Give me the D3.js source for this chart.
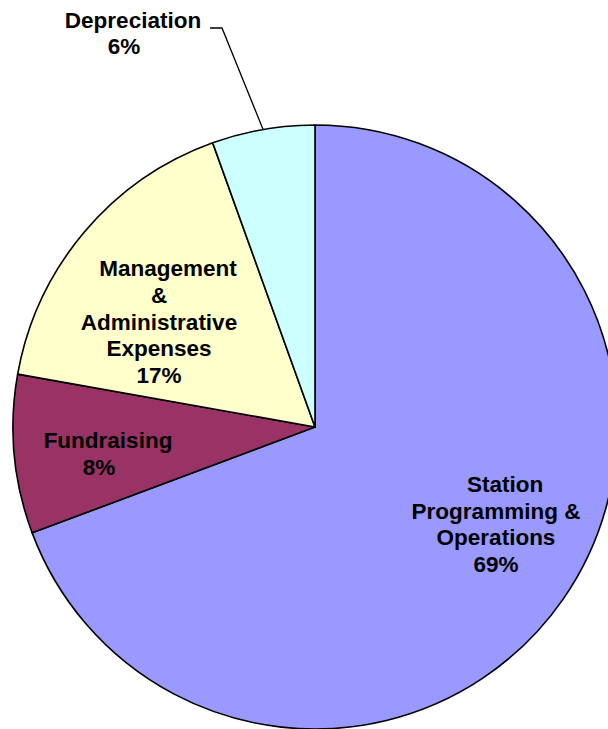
<!DOCTYPE html>
<html>
<head>
<meta charset="utf-8">
<script src="https://cdn.jsdelivr.net/npm/d3@7"></script>
<style>
  html, body { margin: 0; padding: 0; background: #fff; overflow: hidden; }
  svg { display: block; }
  text { font-family: "Liberation Sans", Arial, sans-serif; font-weight: bold; font-size: 22.5px; fill: #000; }
</style>
</head>
<body>
<svg id="chart" width="608" height="729"></svg>
<script>
// ---- data ----
const categories = ["Station Programming & Operations", "Fundraising", "Management & Administrative Expenses", "Depreciation"];
const values = [69.3, 8.5, 16.7, 5.5];
const percentLabels = ["69%", "8%", "17%", "6%"];
const labelLines = [
  ["Station", "Programming &", "Operations"],
  ["Fundraising"],
  ["Management", "&", "Administrative", "Expenses"],
  ["Depreciation"]
];
const colors = ["#9999FF", "#993366", "#FFFFCC", "#CCFFFF"];

// ---- layout ----
const cx = 315, cy = 427, R = 302;
const labelOffsets = [[181, 97], [-216, 26.5], [-156, -105.5], [-191, -394]];
const leaderSlice = 3;
const lineH = 26.6;

const svg = d3.select("#chart");
const g = svg.append("g").attr("transform", `translate(${cx},${cy})`);

const pie = d3.pie().sort(null).value(d => d)
  .startAngle(0).endAngle(2 * Math.PI);
const arcs = pie(values);
const arc = d3.arc().innerRadius(0).outerRadius(R);

g.selectAll("path.slice").data(arcs).enter().append("path")
  .attr("class", "slice")
  .attr("d", arc)
  .attr("fill", (d, i) => colors[i])
  .attr("stroke", "#000")
  .attr("stroke-width", 1.6)
  .attr("stroke-linejoin", "round");

// leader line for Depreciation
{
  const a = arcs[leaderSlice];
  const mid = (a.startAngle + a.endAngle) / 2;
  const ex = R * Math.sin(mid), ey = -R * Math.cos(mid);
  const [lx, ly] = labelOffsets[leaderSlice];
  const elbowY = ly - 5;
  g.append("polyline")
    .attr("points", [[lx + 86, elbowY], [lx + 98, elbowY], [ex, ey]].map(p => p.join(",")).join(" "))
    .attr("fill", "none")
    .attr("stroke", "#000")
    .attr("stroke-width", 1.3);
}

// labels
arcs.forEach((a, i) => {
  const lines = labelLines[i].concat([percentLabels[i]]);
  const [lx, ly] = labelOffsets[i];
  const n = lines.length;
  const t = g.append("text").attr("text-anchor", "middle");
  lines.forEach((ln, k) => {
    t.append("tspan")
      .attr("x", lx + (k === 0 ? 9 : 0))
      .attr("y", ly + (k - (n - 1) / 2) * lineH)
      .attr("dy", "0.36em")
      .text(ln);
  });
});
</script>
</body>
</html>
